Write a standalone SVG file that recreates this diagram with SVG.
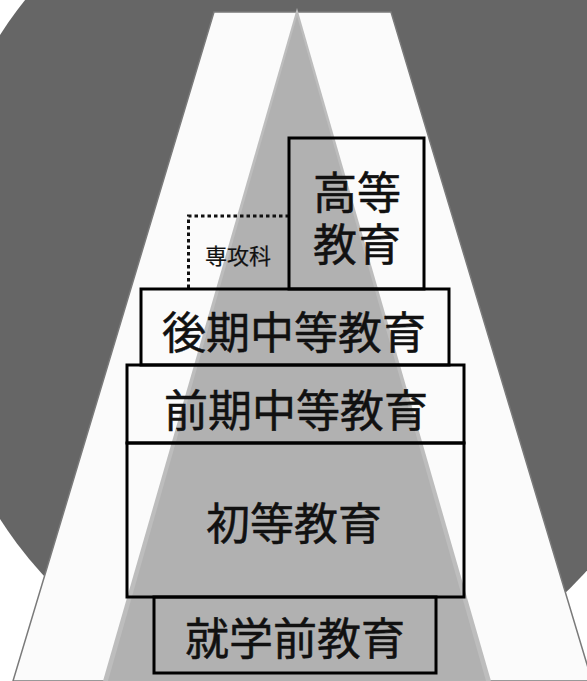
<svg xmlns="http://www.w3.org/2000/svg" width="587" height="681" viewBox="0 0 587 681">
<style>
.box{fill:none;stroke:#000;stroke-width:3}
.lbl{font-family:"Noto Sans CJK JP","Noto Sans CJK SC",sans-serif;font-size:44px;fill:#111;stroke:#111;stroke-width:0.5;text-anchor:middle}
.small{font-size:22px;stroke-width:0.2}
.dot{fill:none;stroke:#111;stroke-width:3;stroke-dasharray:3.5 3}
</style>
<rect x="0" y="0" width="587" height="681" fill="#ffffff"/>
<g id="background">
<ellipse cx="313" cy="277" rx="383" ry="420" fill="#666666"/>
<polygon points="214,12 391,12 592,681 13,681" fill="#fbfbfb" stroke="#7a7a7a" stroke-width="1.5"/>
<polygon points="297,8 491,681 103,681" fill="#bdbdbd"/>
<polygon points="297,16 486,681 108,681" fill="#b1b1b1"/>
</g>
<g id="connectors">
<polyline class="dot" points="188.5,288 188.5,216 289,216"/>
</g>
<g id="node-senkouka">
<text class="lbl small" x="238" y="264">専攻科</text>
</g>
<g id="node-koutou">
<rect class="box" x="289" y="138" width="135" height="151"/>
<text class="lbl" x="357" y="209">高等<tspan x="357" y="261">教育</tspan></text>
</g>
<g id="node-kouki">
<rect class="box" x="141" y="289" width="308" height="76"/>
<text class="lbl" x="294" y="349">後期中等教育</text>
</g>
<g id="node-zenki">
<rect class="box" x="127" y="365" width="337" height="78"/>
<text class="lbl" x="296" y="427">前期中等教育</text>
</g>
<g id="node-shotou">
<rect class="box" x="127" y="443" width="337" height="154"/>
<text class="lbl" x="294" y="540">初等教育</text>
</g>
<g id="node-shugakumae">
<rect class="box" x="154" y="597" width="282" height="76"/>
<text class="lbl" x="295" y="655">就学前教育</text>
</g>
</svg>
